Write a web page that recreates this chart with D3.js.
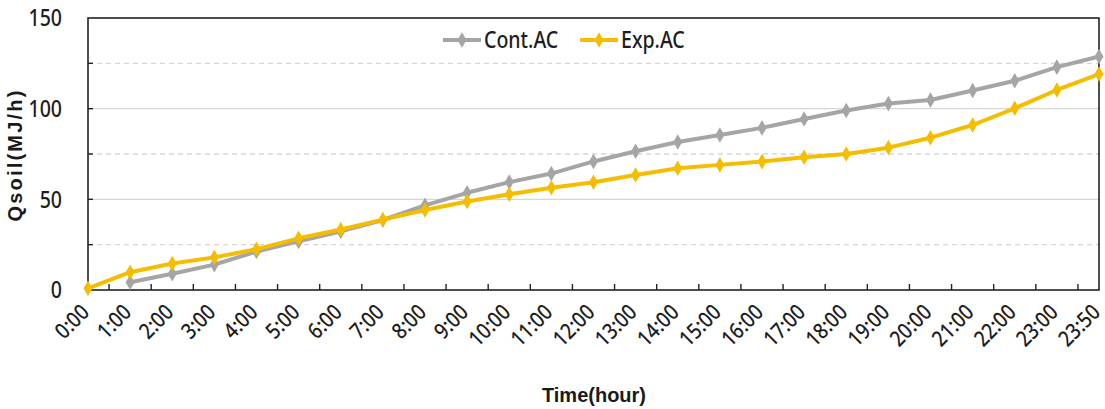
<!DOCTYPE html>
<html>
<head>
<meta charset="utf-8">
<script src="https://cdn.jsdelivr.net/npm/d3@7"></script>
<style>
  body { margin: 0; background: #fff; }
  svg { display: block; }
  .tick-label { font-family: "Noto Sans", "Open Sans", sans-serif; fill: #1e1e1e; font-weight: 500; }
  .axis-title { font-family: "Liberation Sans", Arial, sans-serif; font-weight: bold; fill: #1a1a1a; }
</style>
</head>
<body>
<svg width="1105" height="409"></svg>
<script>
var svg = d3.select("svg");
var width = 1105;
var height = 409;
var margin = { top: 18, right: 6, bottom: 119, left: 88 };   // plot box 88..1099, 18..290
var innerWidth = width - margin.left - margin.right;
var innerHeight = height - margin.top - margin.bottom;

// Data
var times = ["0:00","1:00","2:00","3:00","4:00","5:00","6:00","7:00","8:00","9:00","10:00","11:00",
             "12:00","13:00","14:00","15:00","16:00","17:00","18:00","19:00","20:00","21:00","22:00","23:00","23:50"];
// Cont.AC has no point at 0:00
var contAC = [null, 4.3, 9, 14, 21.2, 26.8, 32.3, 38.6, 46.7, 53.6, 59.5, 64.2,
              70.9, 76.5, 81.6, 85.5, 89.4, 94.3, 99, 102.8, 104.8, 110, 115.4, 122.9, 128.8];
var expAC  = [0.9, 9.8, 14.6, 18, 22.5, 28.5, 33.4, 38.8, 44.1, 48.8, 52.8, 56.4,
              59.4, 63.4, 67.1, 69, 70.8, 73.2, 75, 78.5, 84, 91, 100.2, 110.3, 119.1];
var yTicks = [0, 50, 100, 150];
var yGrid = [25, 50, 75, 100, 125];

var seriesNames = ["Cont.AC", "Exp.AC"];
var seriesColors = ["#a5a5a5", "#f5bd00"];

var group = svg.append("g")
    .attr("transform", "translate(" + margin.left + "," + margin.top + ")");

var x = d3.scalePoint()
    .domain(times)
    .range([0, innerWidth]);

var y = d3.scaleLinear()
    .domain([0, 150])
    .range([innerHeight, 0]);

// gridlines: solid at 50/100, dashed at 25/75/125
group.selectAll(".grid")
    .data(yGrid)
    .enter()
    .append("line")
    .attr("x1", 0)
    .attr("x2", innerWidth)
    .attr("y1", d => y(d))
    .attr("y2", d => y(d))
    .attr("stroke", "#d6d6d6")
    .attr("stroke-width", 1.3)
    .attr("stroke-dasharray", d => d % 50 === 0 ? null : "5,4");

// plot frame
group.append("rect")
    .attr("width", innerWidth)
    .attr("height", innerHeight)
    .attr("fill", "none")
    .attr("stroke", "#222")
    .attr("stroke-width", 1.6);

// y ticks (inside, every 25)
group.selectAll(".ytick")
    .data(yGrid)
    .enter()
    .append("line")
    .attr("x1", 0)
    .attr("x2", 5)
    .attr("y1", d => y(d))
    .attr("y2", d => y(d))
    .attr("stroke", "#222")
    .attr("stroke-width", 1.4);

// y labels (condensed a bit)
group.selectAll(".ylab")
    .data(yTicks)
    .enter()
    .append("text")
    .attr("class", "tick-label")
    .attr("transform", d => "translate(-26," + y(d) + ") scale(0.85,1)")
    .attr("dy", "0.36em")
    .attr("text-anchor", "end")
    .attr("font-size", "23px")
    .text(d => d);

// x ticks sit between categories, pointing up
var step = x.step();
group.selectAll(".xtick")
    .data(times.slice(0, -1))
    .enter()
    .append("line")
    .attr("x1", d => x(d) + step / 2)
    .attr("x2", d => x(d) + step / 2)
    .attr("y1", innerHeight)
    .attr("y2", innerHeight - 6)
    .attr("stroke", "#222")
    .attr("stroke-width", 1.4);

// x labels, rotated
group.selectAll(".xlab")
    .data(times)
    .enter()
    .append("text")
    .attr("class", "tick-label")
    .attr("transform", d => "translate(" + (x(d) - 3) + "," + (innerHeight + 18) + ") rotate(-45) scale(0.86,1)")
    .attr("text-anchor", "end")
    .attr("dy", "0.36em")
    .attr("font-size", "22px")
    .text(d => d);

// axis titles
svg.append("text")
    .attr("class", "axis-title")
    .attr("transform", "translate(22," + (margin.top + innerHeight / 2 + 1) + ") rotate(-90)")
    .attr("text-anchor", "middle")
    .attr("font-size", "20px")
    .attr("letter-spacing", "2.2px")
    .text("Qsoil(MJ/h)");

svg.append("text")
    .attr("class", "axis-title")
    .attr("x", 594)
    .attr("y", 402)
    .attr("text-anchor", "middle")
    .attr("font-size", "20px")
    .text("Time(hour)");

var diamond = d3.symbol().type(d3.symbolDiamond).size(70);

function drawSeries(values, color) {
    var pts = times.map((t, i) => ({ t: t, v: values[i] })).filter(d => d.v !== null);
    var line = d3.line()
        .x(d => x(d.t))
        .y(d => y(d.v));
    group.append("path")
        .datum(pts)
        .attr("fill", "none")
        .attr("stroke", color)
        .attr("stroke-width", 4)
        .attr("stroke-linejoin", "round")
        .attr("d", line);
    group.selectAll(null)
        .data(pts)
        .enter()
        .append("path")
        .attr("d", diamond)
        .attr("transform", d => "translate(" + x(d.t) + "," + y(d.v) + ")")
        .attr("fill", color);
}

drawSeries(contAC, seriesColors[0]);
drawSeries(expAC, seriesColors[1]);

// legend
var legendX = [443, 580];
var legend = svg.append("g").attr("class", "legend");
seriesNames.forEach((name, i) => {
    var lx = legendX[i];
    legend.append("line")
        .attr("x1", lx)
        .attr("x2", lx + 38)
        .attr("y1", 40)
        .attr("y2", 40)
        .attr("stroke", seriesColors[i])
        .attr("stroke-width", 4);
    legend.append("path")
        .attr("d", diamond)
        .attr("transform", "translate(" + (lx + 19) + ",40)")
        .attr("fill", seriesColors[i]);
    legend.append("text")
        .attr("class", "tick-label")
        .attr("transform", "translate(" + (lx + 41) + ",40) scale(0.85,1)")
        .attr("dy", "0.36em")
        .attr("font-size", "23px")
        .text(name);
});
</script>
</body>
</html>
